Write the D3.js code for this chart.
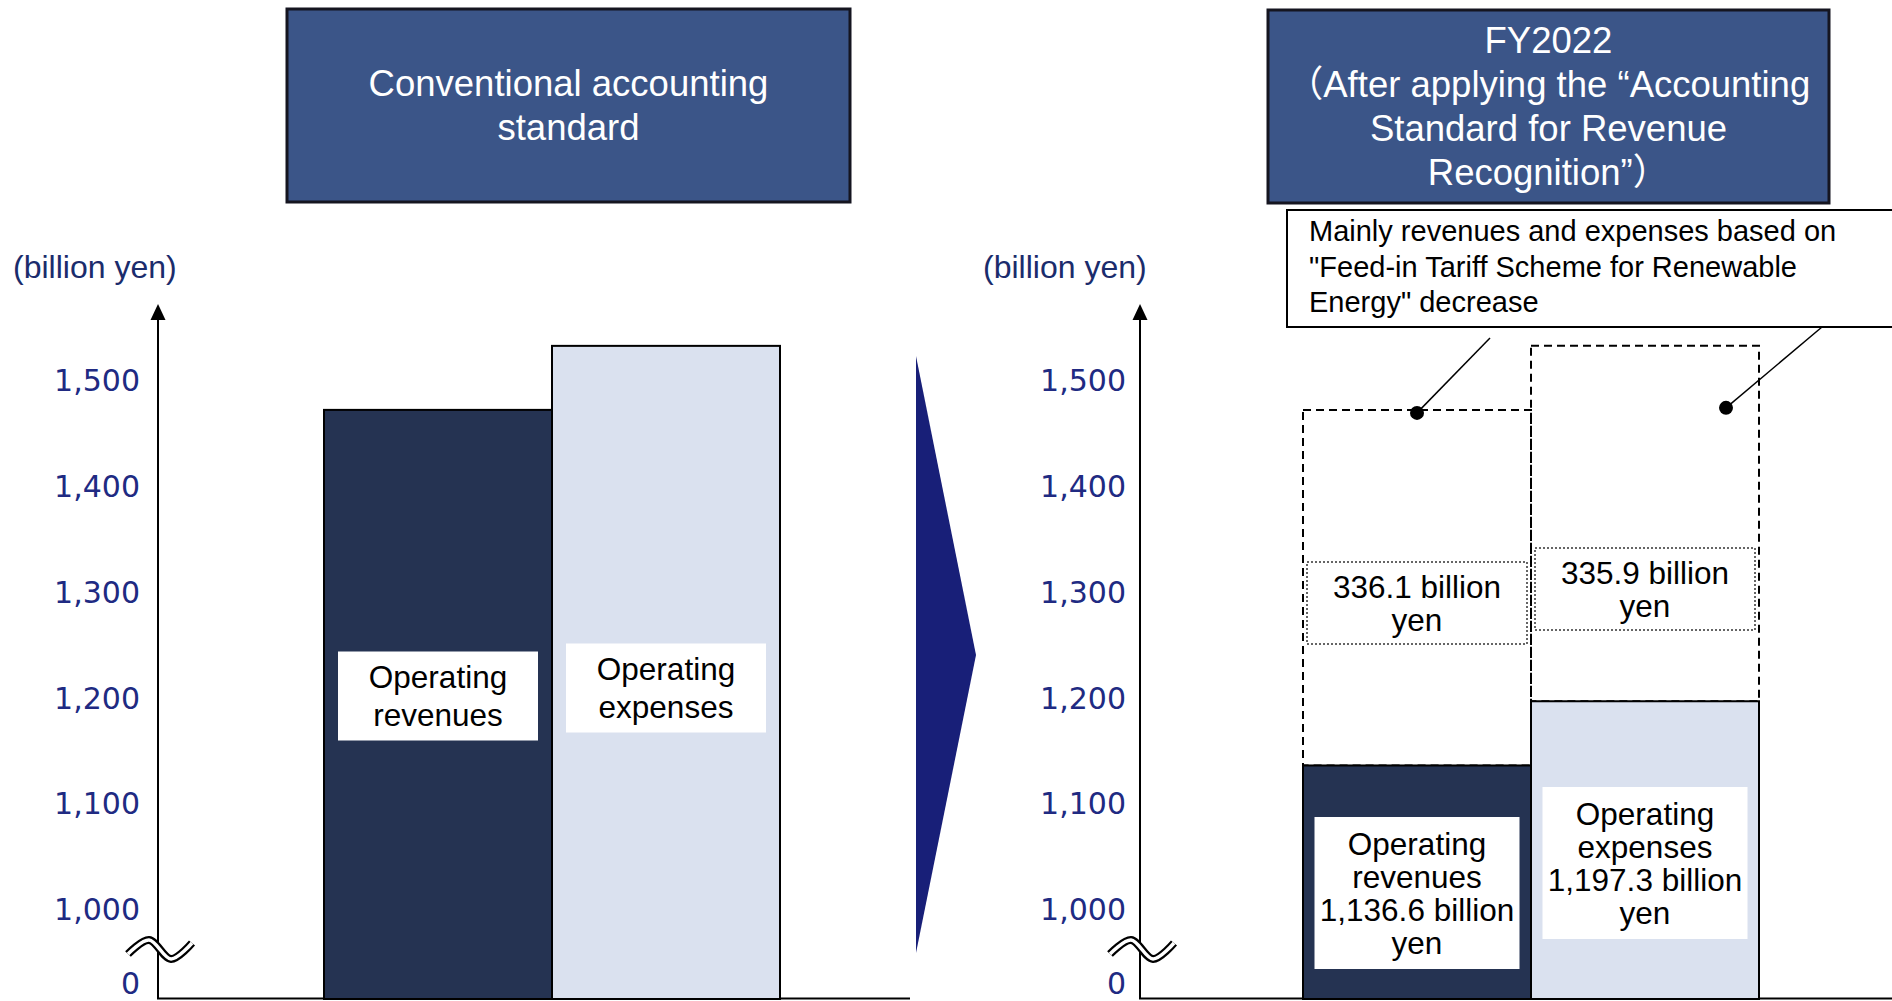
<!DOCTYPE html>
<html>
<head>
<meta charset="utf-8">
<script src="https://cdn.jsdelivr.net/npm/d3@7"></script>
<style>
  body { margin: 0; background: #fff; }
  svg text { font-family: "Liberation Sans", Arial, "Noto Sans CJK JP", sans-serif; }
</style>
</head>
<body>
<svg id="chart" width="1892" height="1001"></svg>
<script>
//chart values
var categories = ["Operating revenues", "Operating expenses"];
var conventionalValues = [1472.7, 1533.2];   //conventional standard
var fy2022Values = [1136.6, 1197.3];         //after revenue recognition standard
var decreaseValues = [336.1, 335.9];         //FIT related decrease
var tickValues = [0, 1000, 1100, 1200, 1300, 1400, 1500];

//texts
var unitLabel = "(billion yen)";
var leftHeader = ["Conventional accounting", "standard"];
var rightHeader = ["FY2022", "（After applying the “Accounting", "Standard for Revenue", "Recognition”）"];
var calloutLines = ["Mainly revenues and expenses based on",
	"\"Feed-in Tariff Scheme for Renewable",
	"Energy\" decrease"];
var leftBarLabels = [["Operating", "revenues"], ["Operating", "expenses"]];
var rightBarLabels = [["Operating", "revenues", "1,136.6 billion", "yen"],
	["Operating", "expenses", "1,197.3 billion", "yen"]];

//colors
var darkFill = "#253352",
	lightFill = "#dae1ef",
	headerFill = "#3b5588",
	tickColor = "#202a82",
	unitColor = "#1b2c6c",
	arrowColor = "#181f78";

var svg = d3.select("#chart");
var baseY = 999;

//broken axis: 0 at baseline, 1,000 - 1,500 linear above the break
var y = d3.scaleLinear()
	.domain([0, 1000, 1500])
	.range([baseY, 910, 381]);

var panels = [
	{axisX: 158, axisEnd: 910, barX0: 324, pad: 18, unitX: 13},
	{axisX: 1140, axisEnd: 1892, barX0: 1303, pad: 14, unitX: 983}
];

//helper: centered block of lines
function textBlock(g, lines, cx, cy, size, lh) {
	var t = g.append("text")
		.attr("font-size", size)
		.attr("text-anchor", "middle")
		.attr("fill", "#000");
	lines.forEach(function(s, i) {
		t.append("tspan")
			.attr("x", cx)
			.attr("y", cy + (i - (lines.length - 1) / 2) * lh + 0.35 * size)
			.text(s);
	});
	return t;
}

//header boxes
var headers = [
	{x: 287, y: 9, w: 563, h: 193, lines: leftHeader},
	{x: 1268, y: 10, w: 561, h: 193, lines: rightHeader}
];
headers.forEach(function(h) {
	svg.append("rect")
		.attr("x", h.x).attr("y", h.y)
		.attr("width", h.w).attr("height", h.h)
		.attr("fill", headerFill)
		.attr("stroke", "#151520")
		.attr("stroke-width", 3);
	textBlock(svg, h.lines, h.x + h.w / 2, h.y + h.h / 2, 36.5, 44)
		.attr("fill", "#fff");
});

//axes for both panels
panels.forEach(function(p, pi) {
	var g = svg.append("g");

	g.append("text")
		.attr("x", p.unitX).attr("y", 278)
		.attr("font-size", 32)
		.attr("fill", unitColor)
		.text(unitLabel);

	var axis = d3.axisLeft(y)
		.tickValues(tickValues)
		.tickFormat(d3.format(","))
		.tickSize(0)
		.tickPadding(p.pad);
	var ag = g.append("g")
		.attr("transform", "translate(" + p.axisX + ",0)")
		.call(axis);
	ag.select(".domain").remove();
	ag.selectAll(".tick text")
		.style("font-family", "'DejaVu Sans', Verdana, sans-serif")
		.style("font-size", "30px")
		.attr("fill", tickColor);
	//keep the 0 label inside the picture
	ag.selectAll(".tick text")
		.filter(function(d) { return d === 0; })
		.attr("dy", "-6px");

	//vertical axis with arrow head, and baseline
	g.append("line")
		.attr("x1", p.axisX).attr("x2", p.axisX)
		.attr("y1", baseY).attr("y2", 318)
		.attr("stroke", "#000").attr("stroke-width", 2);
	g.append("path")
		.attr("d", "M" + (p.axisX - 7.5) + ",320L" + (p.axisX + 7.5) + ",320L" + p.axisX + ",304Z")
		.attr("fill", "#000");
	g.append("line")
		.attr("x1", p.axisX - 1).attr("x2", p.axisEnd)
		.attr("y1", baseY - 0.5).attr("y2", baseY - 0.5)
		.attr("stroke", "#000").attr("stroke-width", 2);

	p.g = g;
	p.x = d3.scaleBand()
		.domain(categories)
		.range([p.barX0, p.barX0 + 456])
		.padding(0);
});

//left panel: conventional standard bars
var L = panels[0];
var leftFills = [darkFill, lightFill];
var leftLabelCY = [696, 688];
L.g.selectAll(".bar")
	.data(categories)
	.enter().append("rect")
	.attr("class", "bar")
	.attr("x", function(d) { return L.x(d); })
	.attr("y", function(d, i) { return y(conventionalValues[i]); })
	.attr("width", L.x.bandwidth())
	.attr("height", function(d, i) { return baseY - y(conventionalValues[i]); })
	.attr("fill", function(d, i) { return leftFills[i]; })
	.attr("stroke", "#000")
	.attr("stroke-width", 2);

categories.forEach(function(c, i) {
	var cx = L.x(c) + L.x.bandwidth() / 2;
	L.g.append("rect")
		.attr("x", cx - 100).attr("y", leftLabelCY[i] - 44.5)
		.attr("width", 200).attr("height", 89)
		.attr("fill", "#fff");
	textBlock(L.g, leftBarLabels[i], cx, leftLabelCY[i], 31.5, 38);
});

//right panel: FY2022 bars + dashed decrease boxes
var R = panels[1];
var rightFills = [darkFill, lightFill];
var rightLabelCY = [893, 863];
var decreaseLabelCY = [603, 589];

R.g.selectAll(".decrease")
	.data(categories)
	.enter().append("rect")
	.attr("class", "decrease")
	.attr("x", function(d) { return R.x(d); })
	.attr("y", function(d, i) { return y(fy2022Values[i] + decreaseValues[i]); })
	.attr("width", R.x.bandwidth())
	.attr("height", function(d, i) { return y(fy2022Values[i]) - y(fy2022Values[i] + decreaseValues[i]); })
	.attr("fill", "none")
	.attr("stroke", "#000")
	.attr("stroke-width", 2)
	.attr("stroke-dasharray", "8,5");

R.g.selectAll(".bar")
	.data(categories)
	.enter().append("rect")
	.attr("class", "bar")
	.attr("x", function(d) { return R.x(d); })
	.attr("y", function(d, i) { return y(fy2022Values[i]); })
	.attr("width", R.x.bandwidth())
	.attr("height", function(d, i) { return baseY - y(fy2022Values[i]); })
	.attr("fill", function(d, i) { return rightFills[i]; })
	.attr("stroke", "#000")
	.attr("stroke-width", 2);

categories.forEach(function(c, i) {
	var cx = R.x(c) + R.x.bandwidth() / 2;
	R.g.append("rect")
		.attr("x", cx - 102.5).attr("y", rightLabelCY[i] - 76)
		.attr("width", 205).attr("height", 152)
		.attr("fill", "#fff");
	textBlock(R.g, rightBarLabels[i], cx, rightLabelCY[i], 31.5, 33);

	R.g.append("rect")
		.attr("x", cx - 110).attr("y", decreaseLabelCY[i] - 41)
		.attr("width", 220).attr("height", 82)
		.attr("fill", "#fff")
		.attr("stroke", "#333")
		.attr("stroke-width", 1.5)
		.attr("stroke-dasharray", "2,2");
	textBlock(R.g, [decreaseValues[i] + " billion", "yen"], cx, decreaseLabelCY[i], 31.5, 33);
});

//axis break marks
panels.forEach(function(p) {
	var pts = [[-30, 954], [-9, 940], [13, 959], [34, 943]].map(function(d) {
		return [p.axisX + d[0], d[1]];
	});
	var wave = d3.line().curve(d3.curveCatmullRom.alpha(0.5));
	p.g.append("path").attr("d", wave(pts))
		.attr("fill", "none").attr("stroke", "#000").attr("stroke-width", 8);
	p.g.append("path").attr("d", wave(pts))
		.attr("fill", "none").attr("stroke", "#fff").attr("stroke-width", 3.5);
});

//big transition arrow
svg.append("path")
	.attr("d", "M916,356L976,655L916,953Z")
	.attr("fill", arrowColor);

//callout box with leaders
svg.append("rect")
	.attr("x", 1287).attr("y", 210)
	.attr("width", 700).attr("height", 117)
	.attr("fill", "#fff")
	.attr("stroke", "#000")
	.attr("stroke-width", 2);
var callout = svg.append("text").attr("font-size", 29).attr("fill", "#000");
calloutLines.forEach(function(s, i) {
	callout.append("tspan").attr("x", 1309).attr("y", 241 + i * 35.5).text(s);
});

var dots = [
	{x0: 1490, y0: 338, x: R.x(categories[0]) + R.x.bandwidth() / 2, y: y(conventionalValues[0]) + 3},
	{x0: 1822, y0: 327, x: R.x(categories[1]) + 195, y: y(conventionalValues[1]) + 62}
];
dots.forEach(function(d) {
	svg.append("line")
		.attr("x1", d.x0).attr("y1", d.y0)
		.attr("x2", d.x).attr("y2", d.y)
		.attr("stroke", "#000").attr("stroke-width", 1.5);
	svg.append("circle")
		.attr("cx", d.x).attr("cy", d.y).attr("r", 7)
		.attr("fill", "#000");
});
</script>
</body>
</html>
